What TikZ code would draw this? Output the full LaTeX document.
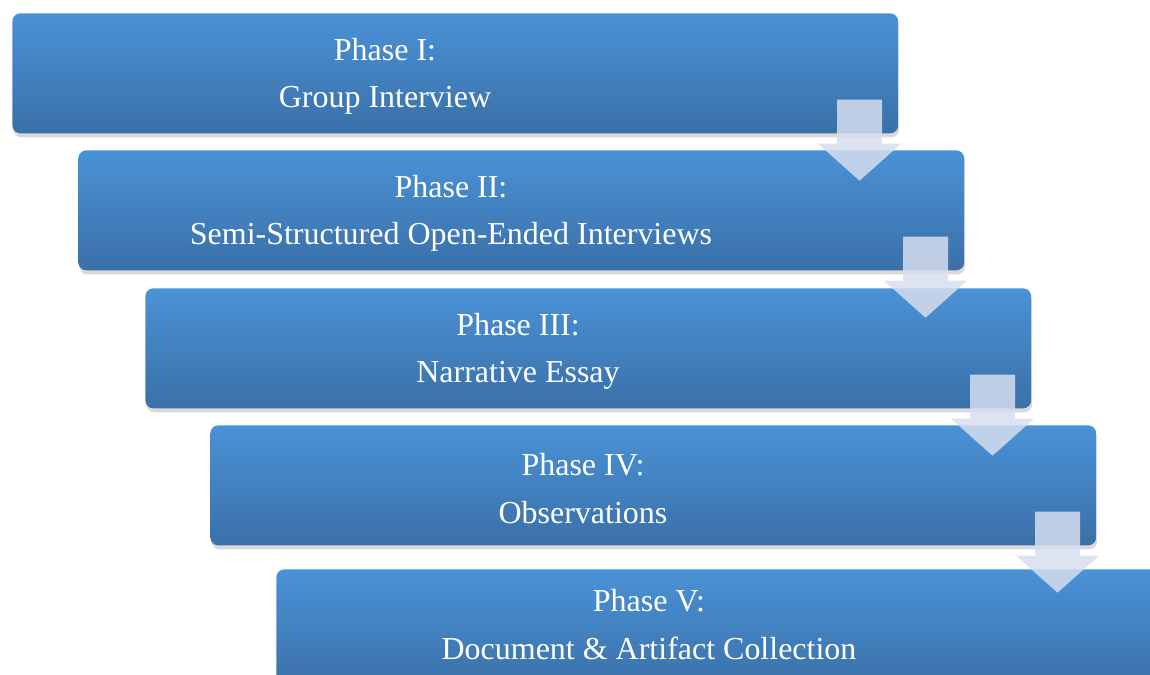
\documentclass[tikz,border=0pt]{standalone}
\usepackage{fontspec}
\setmainfont{Liberation Serif}
\usetikzlibrary{calc,shadows}

\definecolor{phasetop}{RGB}{74,146,214}
\definecolor{phasemid}{RGB}{67,133,198}
\definecolor{phasebot}{RGB}{58,112,168}
\definecolor{stepgray}{RGB}{214,222,238}

\tikzset{
  phasebox/.style={anchor=north west, inner sep=0pt,
    minimum width=17.72cm, minimum height=2.4cm,
    rounded corners=0.16cm,
    top color=phasetop, middle color=phasemid, bottom color=phasebot,
    drop shadow={shadow xshift=0.02cm, shadow yshift=-0.08cm,
      opacity=0.25, fill=black!60}},
  phasetext/.style={text=white, align=center,
    font=\fontsize{18.2}{27}\selectfont},
  downarrow/.style={fill=stepgray, fill opacity=0.85}
}

\begin{document}
\begin{tikzpicture}[x=0.02cm,y=-0.02cm]
  \useasboundingbox (0,0) rectangle (1150,674);

  % phases
  \foreach \n/\x/\y/\dy/\a/\b in {%
      1/12/13/3/Phase I:/Group Interview,%
      2/78/150/3/Phase II:/Semi-Structured Open-Ended Interviews,%
      3/145/288/3/Phase III:/Narrative Essay,%
      4/210/425/3/Phase IV:/Observations,%
      5/276/569/-5/Phase V:/Document \& Artifact Collection} {
    \node[phasebox] (p\n) at (\x,\y) {};
    \node[phasetext] (t\n) at ($(p\n.west)+(373,\dy)$) {\a\\\b};
  }

  % arrows between phases
  \foreach \n in {1,...,4} {
    \coordinate (a\n) at ($(p\n.south east)+(-39,0)$);
    \fill[downarrow] ($(a\n)+(-22.5,-34)$) -- ($(a\n)+(22.5,-34)$)
      -- ($(a\n)+(22.5,10)$) -- ($(a\n)+(41.5,10)$)
      -- ($(a\n)+(0,47)$) -- ($(a\n)+(-41.5,10)$)
      -- ($(a\n)+(-22.5,10)$) -- cycle;
  }
\end{tikzpicture}
\end{document}
